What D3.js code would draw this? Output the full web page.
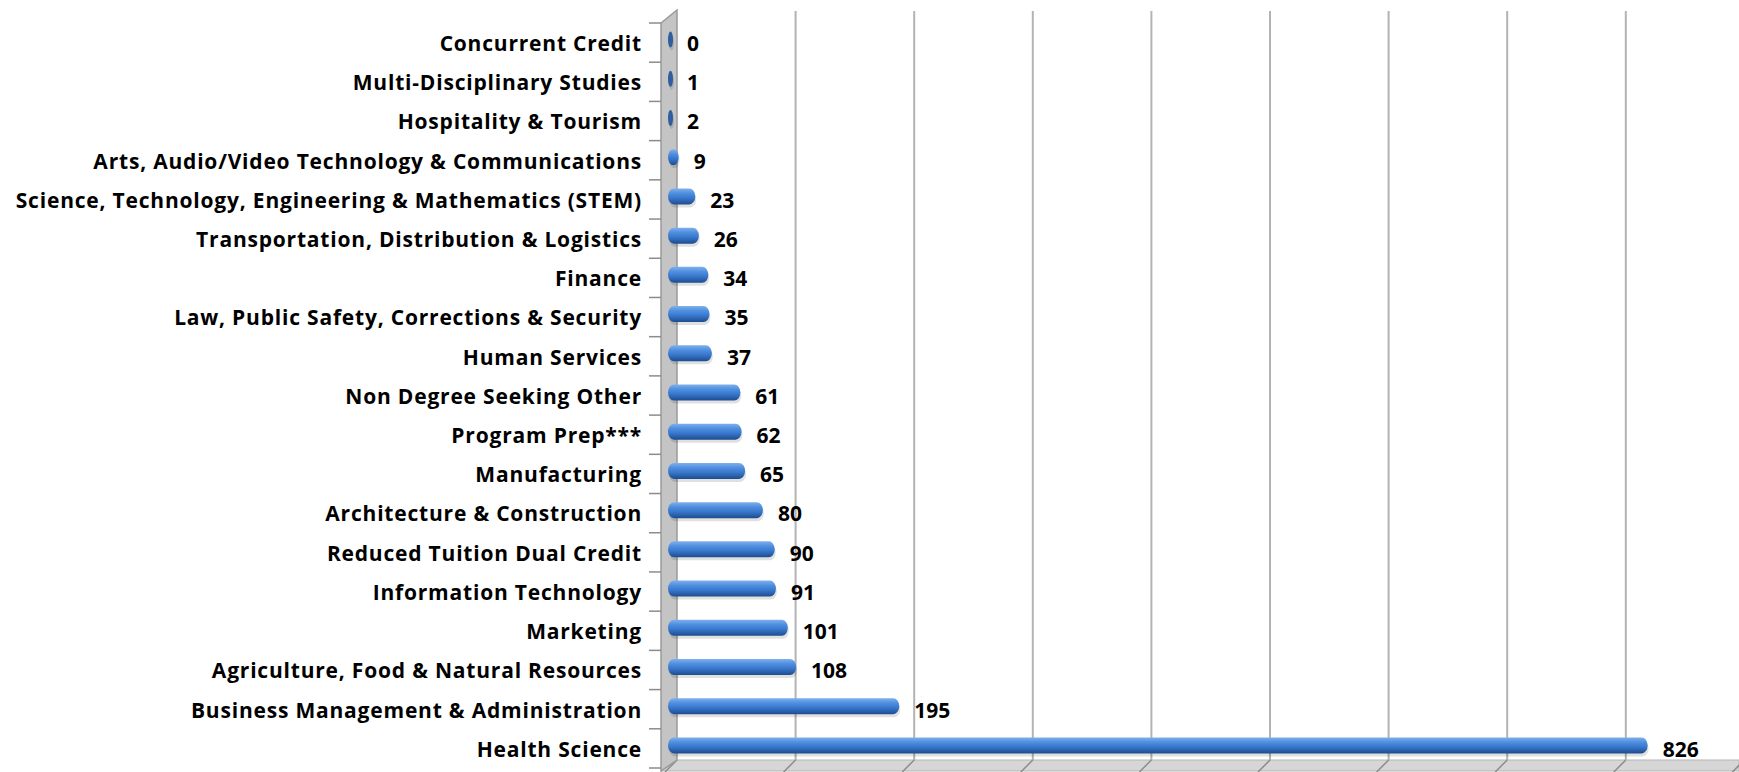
<!DOCTYPE html>
<html>
<head>
<meta charset="utf-8">
<script src="https://cdn.jsdelivr.net/npm/d3@7"></script>
<style>
  body { margin: 0; background: #fff; }
  text { font-family: "Open Sans", Lato, sans-serif; font-weight: bold; fill: #000; }
</style>
</head>
<body>
<script>
const WIDTH = 1739;
const HEIGHT = 772;

// Datos (de arriba hacia abajo)
const categorias = [
  "Concurrent Credit",
  "Multi-Disciplinary Studies",
  "Hospitality & Tourism",
  "Arts, Audio/Video Technology & Communications",
  "Science, Technology, Engineering & Mathematics (STEM)",
  "Transportation, Distribution & Logistics",
  "Finance",
  "Law, Public Safety, Corrections & Security",
  "Human Services",
  "Non Degree Seeking Other",
  "Program Prep***",
  "Manufacturing",
  "Architecture & Construction",
  "Reduced Tuition Dual Credit",
  "Information Technology",
  "Marketing",
  "Agriculture, Food & Natural Resources",
  "Business Management & Administration",
  "Health Science"
];
const valores = [0, 1, 2, 9, 23, 26, 34, 35, 37, 61, 62, 65, 80, 90, 91, 101, 108, 195, 826];
const ticksX = [100, 200, 300, 400, 500, 600, 700, 800, 900];

const PROF = 10; // profundidad del efecto 3D

const svg = d3.select("body")
  .append("svg")
  .attr("width", WIDTH)
  .attr("height", HEIGHT);

const x = d3.scaleLinear().domain([0, 900]).range([667, 667 + 900 * 1.186]);
const y = d3.scaleBand().domain(categorias).range([23, 768]);

// degradado para las barras cilindricas
const defs = svg.append("defs");
const grad = defs.append("linearGradient")
  .attr("id", "cilindro")
  .attr("x1", 0).attr("y1", 0).attr("x2", 0).attr("y2", 1);
grad.append("stop").attr("offset", "0%").attr("stop-color", "#7fb0ec");
grad.append("stop").attr("offset", "30%").attr("stop-color", "#4f8fdf");
grad.append("stop").attr("offset", "60%").attr("stop-color", "#3877cc");
grad.append("stop").attr("offset", "100%").attr("stop-color", "#1d4c8e");

// suelo
svg.append("polygon")
  .attr("points", [[x(0) - 6, 771], [x(0) + PROF, 760], [WIDTH, 760], [WIDTH, 771]].join(" "))
  .attr("fill", "#d6d6d6")
  .attr("stroke", "#b4b4b4")
  .attr("stroke-width", 1);

// lineas de la grilla en el plano trasero
svg.selectAll(".grid")
  .data(ticksX)
  .join("line")
  .attr("x1", (d) => x(d) + PROF)
  .attr("x2", (d) => x(d) + PROF)
  .attr("y1", 11)
  .attr("y2", 760)
  .attr("stroke", "#b3b3b3")
  .attr("stroke-width", 2);

// marcas inclinadas en el suelo
svg.selectAll(".floortick")
  .data([0].concat(ticksX))
  .join("line")
  .attr("x1", (d) => x(d) - 2)
  .attr("y1", 772)
  .attr("x2", (d) => x(d) + PROF)
  .attr("y2", 760)
  .attr("stroke", "#8c8c8c")
  .attr("stroke-width", 1.5);

// pared izquierda
svg.append("polygon")
  .attr("points", [[x(0) - 6, 23], [x(0) + PROF, 10], [x(0) + PROF, 760], [x(0) - 6, 771]].join(" "))
  .attr("fill", "#c4c4c4")
  .attr("stroke", "#9a9a9a")
  .attr("stroke-width", 1.5);

// marcas del eje y
const limites = categorias.map((c) => y(c)).concat([y.range()[1]]);
svg.selectAll(".ytick")
  .data(limites)
  .join("line")
  .attr("x1", x(0) - 18)
  .attr("x2", x(0) - 6)
  .attr("y1", (d) => d)
  .attr("y2", (d) => d)
  .attr("stroke", "#8c8c8c")
  .attr("stroke-width", 1.5);

const ALTO = 16;
const centro = (c) => y(c) + y.bandwidth() / 2 - 3;

// sombra de las barras
svg.selectAll(".sombra")
  .data(valores)
  .join("rect")
  .attr("x", x(0) + 2)
  .attr("y", (d, i) => centro(categorias[i]) - ALTO / 2 + 3)
  .attr("width", (d) => Math.max(x(d) - x(0), 5))
  .attr("height", ALTO)
  .attr("rx", 6).attr("ry", 8)
  .attr("fill", "#000")
  .attr("opacity", 0.12);

// barras
svg.selectAll(".barra")
  .data(valores)
  .join("rect")
  .attr("x", x(0) + 1)
  .attr("y", (d, i) => centro(categorias[i]) - ALTO / 2)
  .attr("width", (d) => Math.max(x(d) - x(0), 5))
  .attr("height", ALTO)
  .attr("rx", (d) => Math.min(6, Math.max(x(d) - x(0), 5) / 2))
  .attr("ry", 8)
  .attr("fill", (d) => (d < 3 ? "#2f5d9e" : "url(#cilindro)"));

// etiquetas de categorias
svg.selectAll(".cat")
  .data(categorias)
  .join("text")
  .attr("x", 642)
  .attr("y", (d) => y(d) + y.bandwidth() / 2 + 1)
  .attr("dy", "0.35em")
  .attr("text-anchor", "end")
  .attr("font-size", 21)
  .attr("letter-spacing", 0.8)
  .text((d) => d);

// etiquetas de valores
svg.selectAll(".val")
  .data(valores)
  .join("text")
  .attr("x", (d) => Math.max(x(d), x(0) + 4) + 16)
  .attr("y", (d, i) => y(categorias[i]) + y.bandwidth() / 2 + 1)
  .attr("dy", "0.35em")
  .attr("font-size", 21)
  .text((d) => d);
</script>
</body>
</html>
